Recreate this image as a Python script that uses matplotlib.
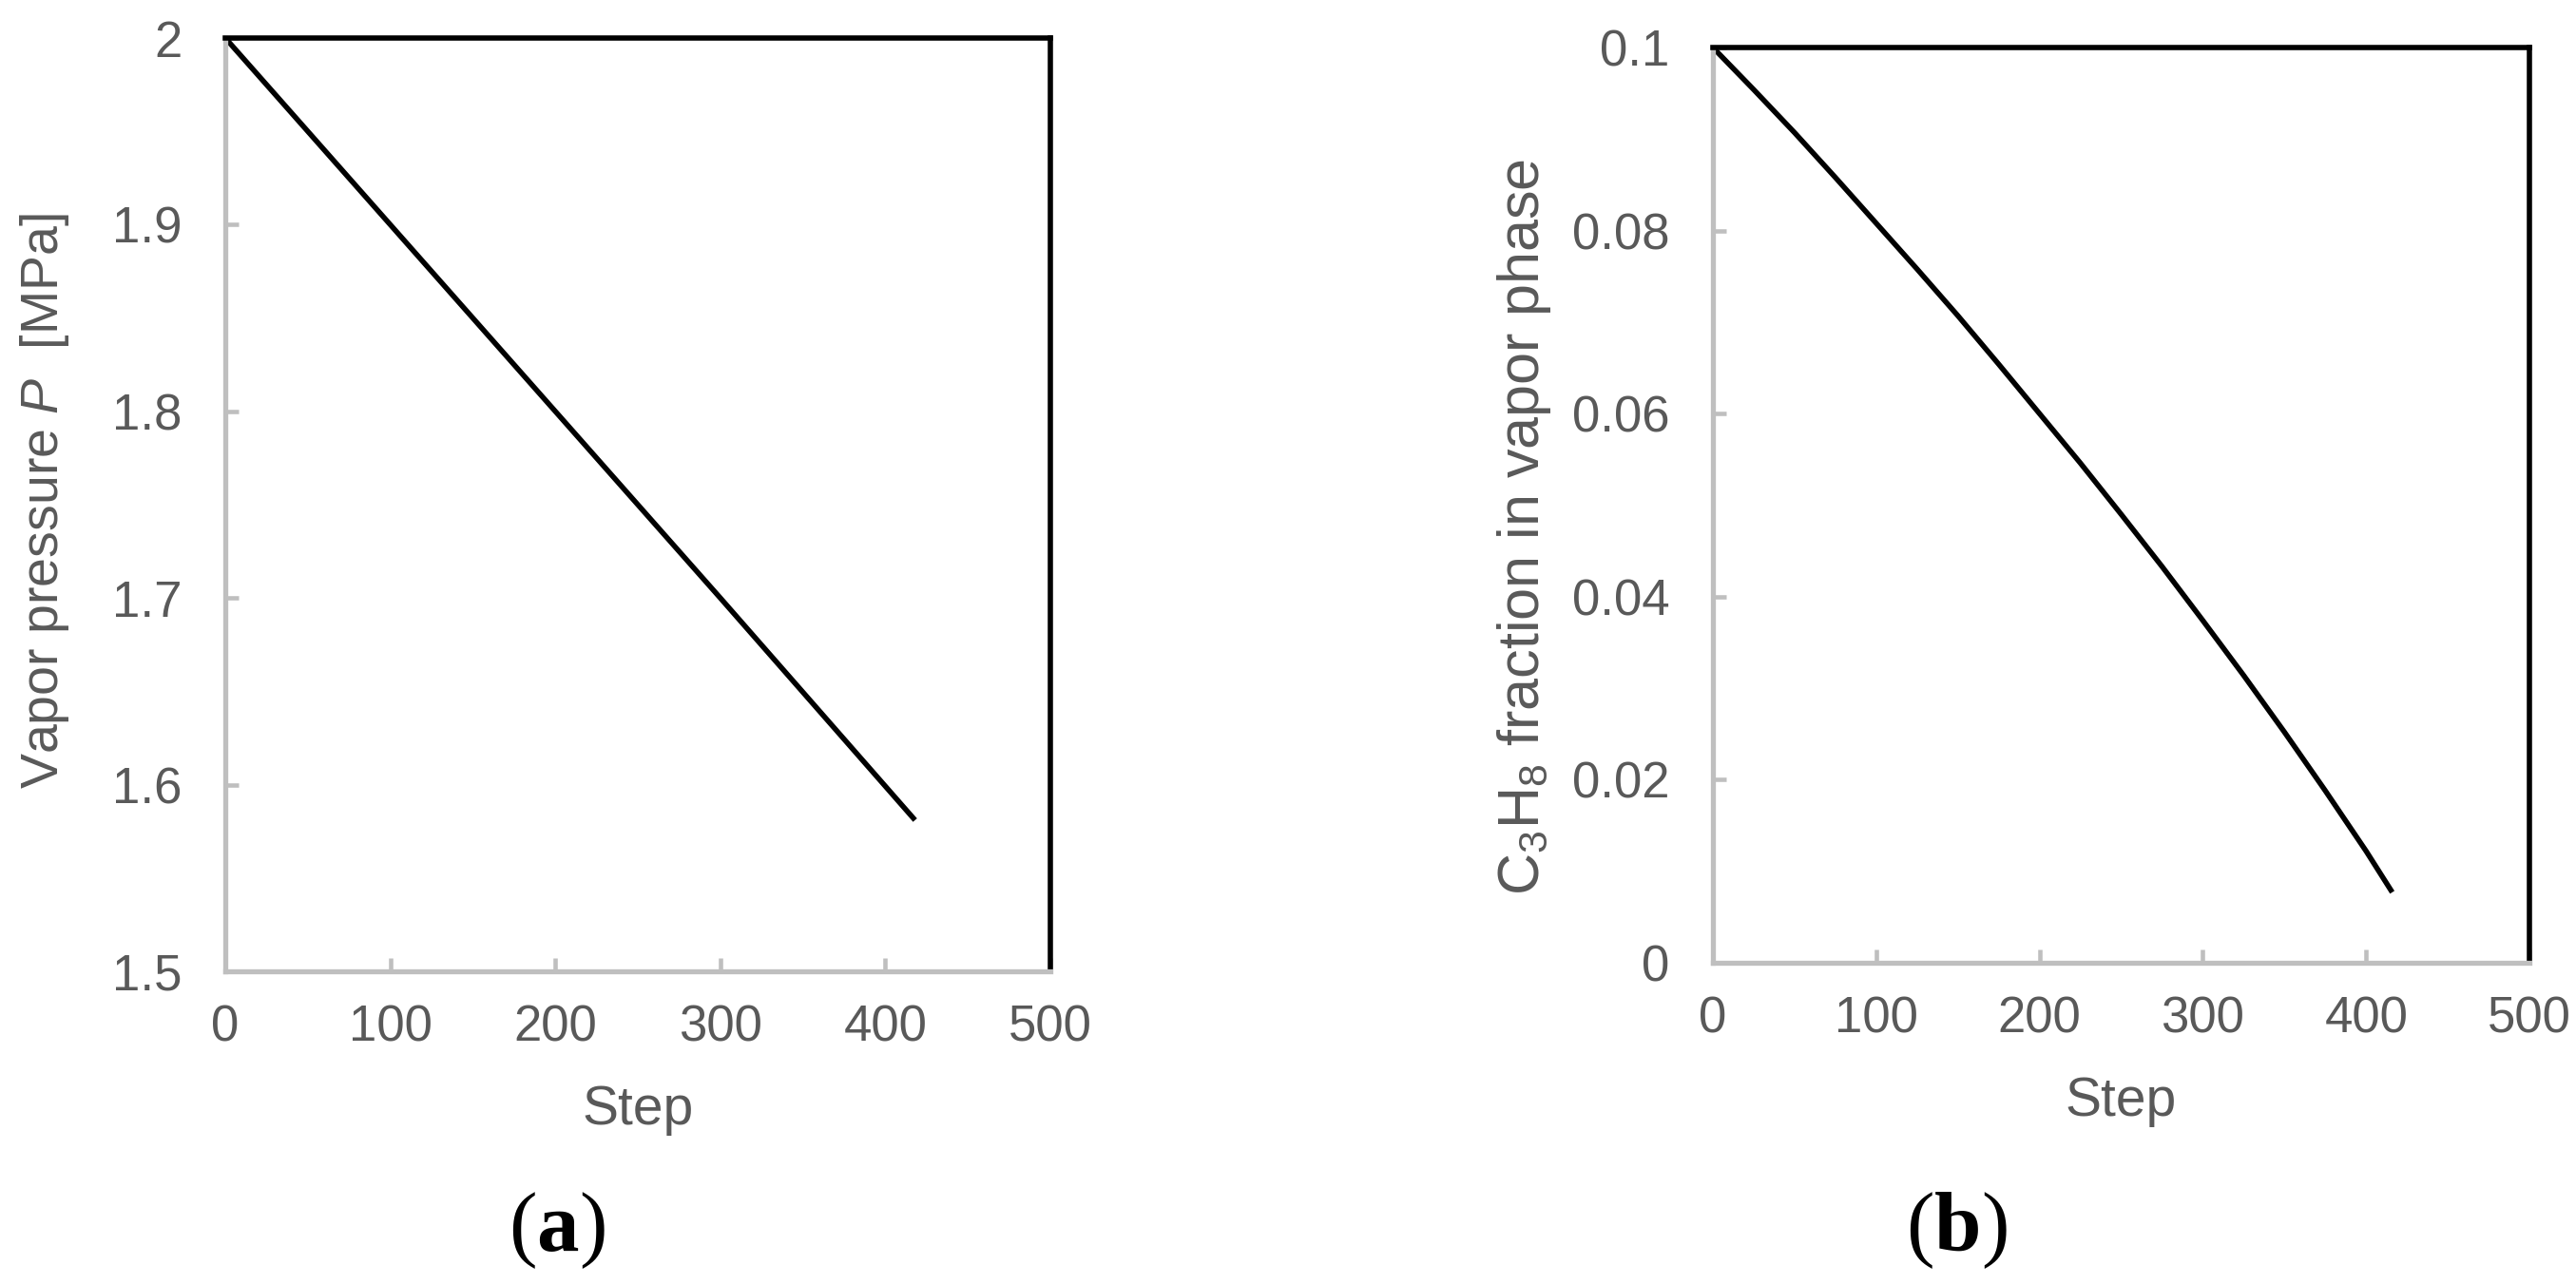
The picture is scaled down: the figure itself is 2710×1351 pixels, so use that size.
import matplotlib
matplotlib.use("Agg")
import matplotlib.pyplot as plt

# ---- data ----
steps_a = [0, 100, 200, 300, 418]
pressure = [2.0, 1.9, 1.8, 1.7, 1.581]

steps_b = [0, 25, 50, 75, 100, 125, 150, 175, 200, 225, 250, 275, 300,
           325, 350, 375, 400, 416]
c3h8_frac = [0.1000, 0.0954, 0.0907, 0.0858, 0.0808, 0.0758, 0.0707, 0.0654,
             0.0600, 0.0546, 0.0490, 0.0433, 0.0374, 0.0314, 0.0252, 0.0188,
             0.0122, 0.0077]

xticks = [0, 100, 200, 300, 400, 500]
yticks_a = [1.5, 1.6, 1.7, 1.8, 1.9, 2.0]
yticklabels_a = ["1.5", "1.6", "1.7", "1.8", "1.9", "2"]
yticks_b = [0, 0.02, 0.04, 0.06, 0.08, 0.1]
yticklabels_b = ["0", "0.02", "0.04", "0.06", "0.08", "0.1"]

plt.rcParams['font.family'] = ['Liberation Sans', 'DejaVu Sans']
plt.rcParams['mathtext.fontset'] = 'custom'
plt.rcParams['mathtext.rm'] = 'Liberation Sans'
plt.rcParams['mathtext.it'] = 'Liberation Sans:italic'
plt.rcParams['mathtext.bf'] = 'Liberation Serif:bold'

W, H = 2710, 1351
fig = plt.figure(figsize=(W / 100, H / 100), dpi=100)

GREY = '#BFBFBF'
TXT = '#595959'


def px_axes(x0, x1, ytop, ybot):
    return fig.add_axes([x0 / W, 1 - ybot / H, (x1 - x0) / W, (ybot - ytop) / H])


def style(ax):
    for s in ('left', 'bottom'):
        ax.spines[s].set_color(GREY)
        ax.spines[s].set_linewidth(3.8)
    for s in ('top', 'right'):
        ax.spines[s].set_color('black')
        ax.spines[s].set_linewidth(4.0)
    ax.tick_params(axis='both', direction='in', length=10, width=3.3,
                   color=GREY, labelcolor=TXT, labelsize=38)
    ax.tick_params(axis='x', pad=25)
    ax.tick_params(axis='y', pad=33)
    ax.tick_params(top=False, right=False)


ax1 = px_axes(237, 1105, 40, 1022)
ax1.plot(steps_a, pressure, color='black', lw=4.0, solid_capstyle='butt', clip_on=False)
ax1.set_xlim(0, 500)
ax1.set_ylim(1.5, 2.0)
ax1.set_xticks(xticks)
ax1.set_yticks(yticks_a)
ax1.set_yticklabels(yticklabels_a)
style(ax1)

ax2 = px_axes(1802, 2661, 50, 1013)
ax2.plot(steps_b, c3h8_frac, color='black', lw=4.0, solid_capstyle='butt',
         solid_joinstyle='round', clip_on=False)
ax2.set_xlim(0, 500)
ax2.set_ylim(0, 0.1)
ax2.set_xticks(xticks)
ax2.set_yticks(yticks_b)
ax2.set_yticklabels(yticklabels_b)
style(ax2)

# axis labels
fig.text(671 / W, 1 - 1183 / H, 'Step', ha='center', va='baseline', fontsize=41, color=TXT)
fig.text(2231 / W, 1 - 1174 / H, 'Step', ha='center', va='baseline', fontsize=41, color=TXT)
fig.text(47 / W, 1 - 527 / H, 'Vapor pressure $\\it{P}$  [MPa]', rotation=90,
         ha='center', va='center', fontsize=40, color=TXT)
fig.text(1603 / W, 1 - 555 / H, 'C$_3$H$_8$ fraction in vapor phase', rotation=90,
         ha='center', va='center', fontsize=44, color=TXT)

# panel labels
fig.text(586 / W, 1 - 1295 / H, '($\\mathbf{a}$)', ha='center', va='center', fontsize=64,
         family='Liberation Serif', color='black')
fig.text(2058 / W, 1 - 1295 / H, '($\\mathbf{b}$)', ha='center', va='center', fontsize=64,
         family='Liberation Serif', color='black')

fig.savefig('out.png', dpi=100)
